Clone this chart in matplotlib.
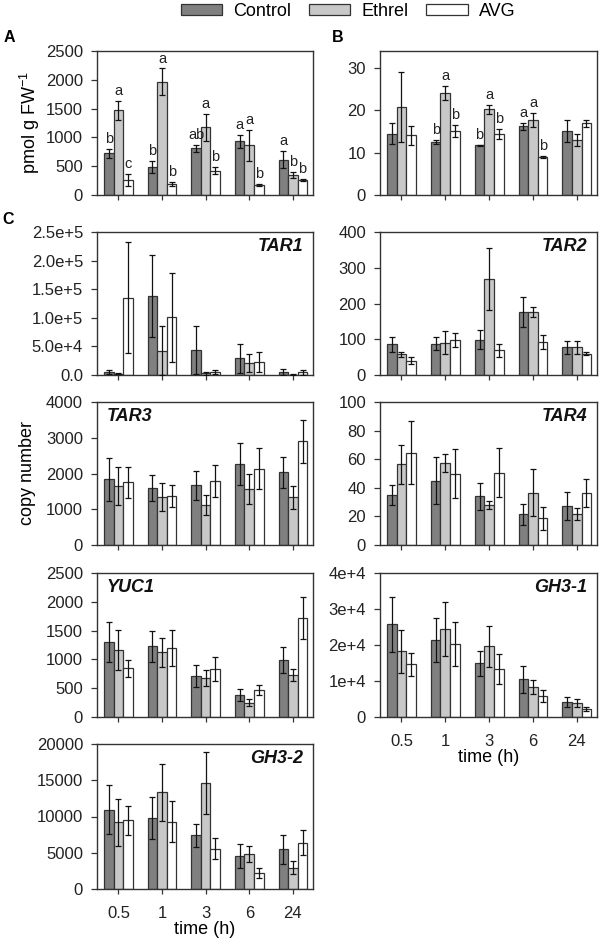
import matplotlib
matplotlib.use("Agg")
import matplotlib.pyplot as plt
import numpy as np

plt.rcParams['font.family'] = ['Liberation Sans', 'DejaVu Sans']
plt.rcParams['mathtext.default'] = 'regular'

times = ["0.5", "1", "3", "6", "24"]
treatments = ["Control", "Ethrel", "AVG"]
colors = ["#808080", "#c8c8c8", "#ffffff"]

# rows: Control, Ethrel, AVG ; columns: 0.5, 1, 3, 6, 24 h
a_mean = [[722, 490, 808, 935, 616], [1472, 1963, 1172, 862, 349], [260, 190, 421, 175, 262]]
a_err = [[73, 100, 55, 112, 150], [165, 235, 237, 265, 55], [100, 30, 65, 14, 12]]
a_letters = [["b", "a", "c"], ["b", "a", "b"], ["ab", "a", "b"], ["a", "a", "b"], ["a", "b", "b"]]

b_mean = [[14.5, 12.6, 11.7, 16.2, 15.1], [20.7, 24.1, 20.2, 17.7, 13.0], [14.1, 15.1, 14.5, 9.0, 16.9]]
b_err = [[2.4, 0.5, 0.2, 0.8, 2.7], [8.3, 1.7, 1.0, 1.7, 1.4], [2.3, 1.5, 1.2, 0.15, 0.8]]
b_letters = [["", "", ""], ["b", "a", "b"], ["b", "a", "b"], ["a", "a", "b"], ["", "", ""]]

tar1_mean = [[5000, 137600, 43400, 28900, 4700], [2500, 42200, 3000, 21400, 500], [134700, 101000, 5000, 23100, 4700]]
tar1_err = [[4000, 72000, 42000, 25000, 5000], [1500, 43000, 3000, 16000, 1000], [97000, 78000, 4000, 17000, 4000]]

tar2_mean = [[86, 88, 99, 175, 77], [58, 90, 269, 175, 77], [40, 98, 69, 93, 60]]
tar2_err = [[21, 17, 26, 42, 18], [7, 32, 87, 14, 18], [10, 19, 18, 20, 4]]

tar3_mean = [[1842, 1600, 1665, 2270, 2037], [1656, 1340, 1116, 1572, 1330], [1749, 1367, 1786, 2130, 2900]]
tar3_err = [[600, 360, 410, 585, 430], [525, 385, 290, 420, 330], [430, 310, 455, 570, 600]]

tar4_mean = [[34.9, 45.1, 34.0, 21.4, 27.2], [56.3, 57.4, 27.9, 36.5, 21.6], [64.4, 50.0, 50.5, 18.6, 36.5]]
tar4_err = [[7, 16.5, 9.7, 7.5, 10], [13.5, 6.5, 2.6, 16.5, 4.2], [22, 17, 17, 8, 10]]

yuc1_mean = [[1305, 1224, 710, 381, 987], [1160, 1120, 676, 248, 727], [843, 1195, 826, 473, 1719]]
yuc1_err = [[345, 275, 196, 107, 228], [345, 250, 135, 57, 100], [155, 315, 207, 83, 360]]

gh31_mean = [[25700, 21400, 14900, 10500, 4050], [18300, 24400, 19700, 8300, 3900], [14650, 20300, 13300, 5900, 2200]]
gh31_err = [[7700, 6100, 3500, 3800, 1400], [6000, 7500, 5700, 2000, 1000], [3250, 6200, 4200, 1600, 450]]

gh32_mean = [[10920, 9770, 7420, 4560, 5480], [9220, 13320, 14610, 4790, 2950], [9450, 9310, 5580, 2170, 6400]]
gh32_err = [[3400, 2860, 1570, 1680, 1980], [3230, 3920, 4310, 1080, 920], [1950, 2770, 1400, 700, 1700]]

tar1_ticks = [0, 50000, 100000, 150000, 200000, 250000]
tar1_ticklabels = ["0.0", "5.0e+4", "1.0e+5", "1.5e+5", "2.0e+5", "2.5e+5"]
gh31_ticks = [0, 10000, 20000, 30000, 40000]
gh31_ticklabels = ["0", "1e+4", "2e+4", "3e+4", "4e+4"]

W, H = 600, 940
fig = plt.figure(figsize=(W / 100, H / 100), dpi=100)


def make_ax(l, t, r, b):
    return fig.add_axes([l / W, 1 - b / H, (r - l) / W, (b - t) / H])


edge = "#333333"
bw = 0.22
x = np.arange(len(times))


def draw(ax, mean, err, ymax, yticks, yticklabels=None, letters=None, gene=None, gene_left=False, xlabels=False):
    for i in range(3):
        xi = x + (i - 1) * bw
        ax.bar(xi, mean[i], bw, color=colors[i], edgecolor=edge, linewidth=0.9, zorder=2)
        ax.errorbar(xi, mean[i], yerr=err[i], fmt='none', ecolor='#111111',
                    elinewidth=0.9, capsize=2.5, capthick=0.9, zorder=3)
        if letters is not None:
            for j in range(len(times)):
                lab = letters[j][i]
                if lab:
                    ax.text(xi[j], mean[i][j] + err[i][j] + ymax * 0.02, lab,
                            ha='center', va='bottom', fontsize=10.5, color='#222222')
    ax.set_xlim(-0.49, 4.46)
    ax.set_ylim(0, ymax)
    ax.set_yticks(yticks)
    if yticklabels is not None:
        ax.set_yticklabels(yticklabels)
    ax.set_xticks(x)
    if xlabels:
        ax.set_xticklabels(times)
        ax.set_xlabel("time (h)", fontsize=13, labelpad=0)
    else:
        ax.set_xticklabels([])
    ax.tick_params(axis='y', direction='out', length=4, width=0.9, pad=6, labelsize=12, colors=edge, labelcolor='#222222')
    ax.tick_params(axis='x', direction='out', length=3.5, width=0.9, pad=9, labelsize=12, colors=edge, labelcolor='#222222')
    for s in ax.spines.values():
        s.set_color(edge)
        s.set_linewidth(1.0)
    if gene:
        if gene_left:
            ax.text(0.045, 0.9, gene, transform=ax.transAxes, ha='left', va='center',
                    fontsize=13, fontweight='bold', fontstyle='italic', color='#111111')
        else:
            ax.text(0.955, 0.9, gene, transform=ax.transAxes, ha='right', va='center',
                    fontsize=13, fontweight='bold', fontstyle='italic', color='#111111')


ax_a = make_ax(97, 51, 313, 195)
draw(ax_a, a_mean, a_err, 2500, [0, 500, 1000, 1500, 2000, 2500], letters=a_letters)
ax_b = make_ax(380, 51, 597, 195)
draw(ax_b, b_mean, b_err, 34, [0, 10, 20, 30], letters=b_letters)

ax1 = make_ax(97, 232, 313, 375)
draw(ax1, tar1_mean, tar1_err, 250000, tar1_ticks, tar1_ticklabels, gene="TAR1")
ax2 = make_ax(380, 232, 597, 375)
draw(ax2, tar2_mean, tar2_err, 400, [0, 100, 200, 300, 400], gene="TAR2")
ax3 = make_ax(97, 402, 313, 545)
draw(ax3, tar3_mean, tar3_err, 4000, [0, 1000, 2000, 3000, 4000], gene="TAR3", gene_left=True)
ax4 = make_ax(380, 402, 597, 545)
draw(ax4, tar4_mean, tar4_err, 100, [0, 20, 40, 60, 80, 100], gene="TAR4")
ax5 = make_ax(97, 573, 313, 717)
draw(ax5, yuc1_mean, yuc1_err, 2500, [0, 500, 1000, 1500, 2000, 2500], gene="YUC1", gene_left=True)
ax6 = make_ax(380, 573, 597, 717)
draw(ax6, gh31_mean, gh31_err, 40000, gh31_ticks, gh31_ticklabels, gene="GH3-1", xlabels=True)
ax7 = make_ax(97, 744, 313, 889)
draw(ax7, gh32_mean, gh32_err, 20000, [0, 5000, 10000, 15000, 20000], gene="GH3-2", xlabels=True)

# y labels
fig.text(30 / W, 1 - 123 / H, "pmol g FW$^{-1}$", rotation=90, ha='center', va='center', fontsize=13)
fig.text(28 / W, 1 - 473 / H, "copy number", rotation=90, ha='center', va='center', fontsize=13)

# panel letters
fig.text(4 / W, 1 - 38 / H, "A", fontsize=11.5, fontweight='bold', va='center')
fig.text(332 / W, 1 - 37 / H, "B", fontsize=11.5, fontweight='bold', va='center')
fig.text(2 / W, 1 - 220 / H, "C", fontsize=11.5, fontweight='bold', va='center')

# legend
handles = [plt.Rectangle((0, 0), 1, 1, facecolor=c, edgecolor=edge, linewidth=0.9) for c in colors]
fig.legend(handles, treatments, loc='center', bbox_to_anchor=(348 / W, 1 - 11 / H), ncol=3,
           frameon=False, fontsize=13, handlelength=2.3, handleheight=0.55,
           handletextpad=0.6, columnspacing=1.0, borderpad=0)

fig.savefig("out.png", dpi=100)
